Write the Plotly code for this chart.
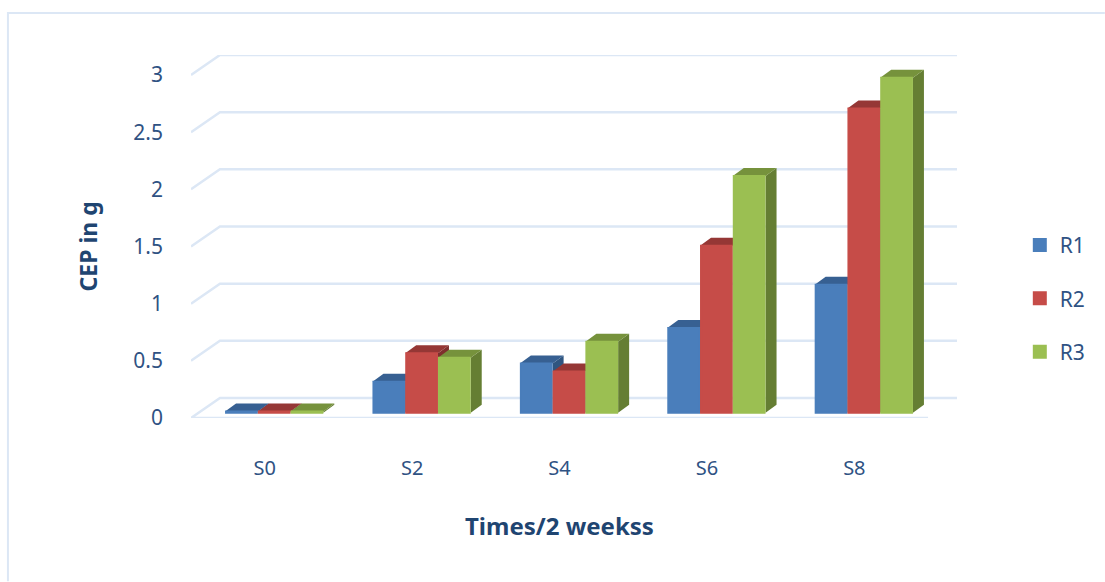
import plotly.graph_objects as go

categories = ["S0", "S2", "S4", "S6", "S8"]
r1 = [0.01, 0.27, 0.43, 0.74, 1.12]
r2 = [0.01, 0.52, 0.36, 1.46, 2.66]
r3 = [0.01, 0.48, 0.62, 2.07, 2.93]
y_ticks = [0, 0.5, 1, 1.5, 2, 2.5, 3]
y_labels = ["0", "0.5", "1", "1.5", "2", "2.5", "3"]

PX_X = 147.6
PX_Y = 114.3
DEPTH_X = 29 / PX_X
DEPTH_Y = 20 / PX_Y
BAR_W = 32.8 / PX_X
BAR_D_X = 11 / PX_X
BAR_D_Y = 8 / PX_Y
BASE = 5.3 / PX_Y
CLUSTER_SHIFT = 9.5 / PX_X
LINE_W = 2

series = [
    ("R1", r1, "#4a7ebb", "#376092", "#2f5580"),
    ("R2", r2, "#c64c48", "#953735", "#7f2f2d"),
    ("R3", r3, "#9bbf52", "#76923c", "#657e33"),
]

fig = go.Figure()

for v in y_ticks:
    xs = [-0.5, -0.5 + DEPTH_X, 4.5 + DEPTH_X]
    ys = [v, v + DEPTH_Y, v + DEPTH_Y]
    if v == 0:
        xs = [4.5, -0.5, -0.5 + DEPTH_X, 4.5 + DEPTH_X]
        ys = [0, 0, DEPTH_Y, DEPTH_Y]
    fig.add_trace(go.Scatter(x=xs, y=ys, mode="lines", showlegend=False, hoverinfo="skip",
                             cliponaxis=False, line=dict(color="#dce7f5", width=2.5), zorder=0))

for s, (name, vals, front, top, side) in enumerate(series):
    z = 1 + 2 * s
    centers = [i + CLUSTER_SHIFT + (s - 1) * BAR_W for i in range(len(categories))]
    tx, ty, sx, sy = [], [], [], []
    for c, v in zip(centers, vals):
        l, r = c - BAR_W / 2, c + BAR_W / 2
        h = BASE + v
        tx += [l, r, r + BAR_D_X, l + BAR_D_X, l, None]
        ty += [h, h, h + BAR_D_Y, h + BAR_D_Y, h, None]
        sx += [r, r + BAR_D_X, r + BAR_D_X, r, r, None]
        sy += [BASE, BASE + BAR_D_Y, h + BAR_D_Y, h, BASE, None]
    fig.add_trace(go.Scatter(x=sx, y=sy, mode="lines", fill="toself", fillcolor=side, showlegend=False,
                             hoverinfo="skip", line=dict(width=0, color=side), zorder=z))
    fig.add_trace(go.Scatter(x=tx, y=ty, mode="lines", fill="toself", fillcolor=top, showlegend=False,
                             hoverinfo="skip", line=dict(width=0, color=top), zorder=z))
    fig.add_trace(go.Bar(x=centers, y=vals, base=BASE, width=BAR_W - LINE_W / PX_X, name=name, legendgroup=name,
                         marker=dict(color=front, line=dict(color=front, width=LINE_W)), zorder=z + 1))

fig.update_layout(
    width=1105, height=582,
    margin=dict(l=191, r=148, t=55, b=164),
    paper_bgcolor="white", plot_bgcolor="rgba(0,0,0,0)",
    barmode="overlay",
    font=dict(family="Noto Sans", color="#2f5283", size=17),
    xaxis=dict(range=[-0.5, 4.5 + DEPTH_X], tickmode="array", tickvals=list(range(5)), ticktext=categories,
               showgrid=False, zeroline=False, showline=False, ticks="", ticklabelstandoff=36,
               tickfont=dict(size=20)),
    yaxis=dict(range=[0, 3 + DEPTH_Y], tickmode="array", tickvals=y_ticks, ticktext=y_labels,
               showgrid=False, zeroline=False, showline=False, ticks="", ticklabelstandoff=27,
               tickfont=dict(size=21)),
    legend=dict(x=1.082, y=0.532, xanchor="left", yanchor="top", tracegroupgap=23, font=dict(size=21),
                bgcolor="rgba(0,0,0,0)", itemclick=False, itemdoubleclick=False),
    annotations=[
        dict(text="<b>Times/2 weekss</b>", xref="x", yref="paper", x=2, y=-0.295, showarrow=False,
             xanchor="center", yanchor="middle", font=dict(size=24, color="#1f4571")),
        dict(text="<b>CEP in g</b>", xref="paper", yref="y", x=-0.1345, y=1.5, showarrow=False, textangle=-90,
             xanchor="center", yanchor="middle", font=dict(size=23, color="#1f4571")),
    ],
    shapes=[dict(type="path", xref="paper", yref="paper",
                 path="M -0.239 -0.45 L -0.239 1.1157 L 1.193 1.1157", line=dict(color="#dce7f5", width=2))],
)

fig.write_html("out.html", config=dict(displayModeBar=False),
               post_script="document.body.style.margin='0';document.body.style.overflow='hidden';")
